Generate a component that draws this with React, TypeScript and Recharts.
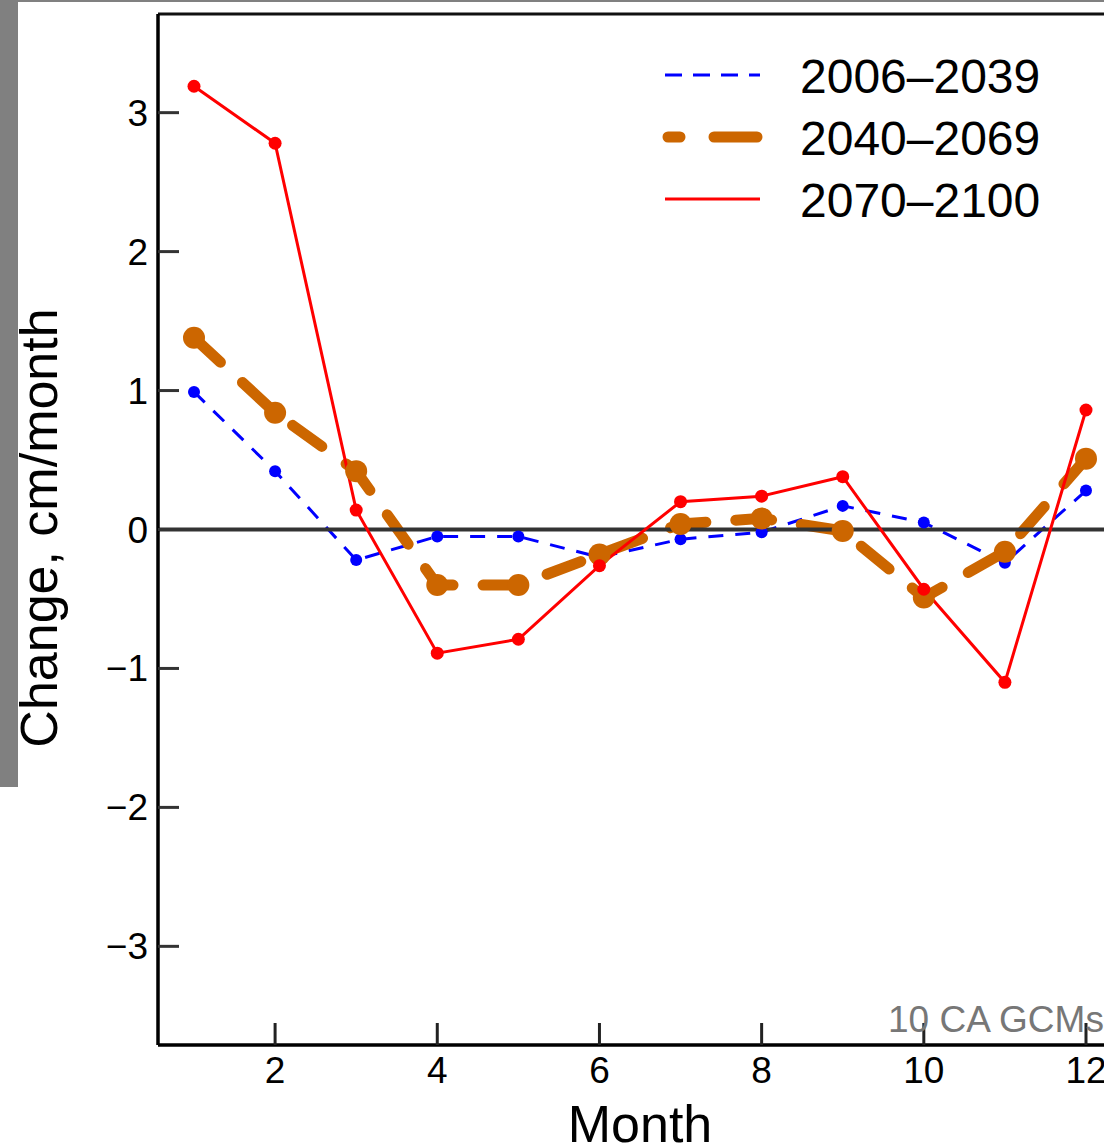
import React from "react";
import { LineChart, Line, XAxis, YAxis, ReferenceLine } from "recharts";

const months = [1, 2, 3, 4, 5, 6, 7, 8, 9, 10, 11, 12];
const s2006 = [0.99, 0.42, -0.22, -0.05, -0.05, -0.2, -0.07, -0.02, 0.17, 0.05, -0.24, 0.28];
const s2040 = [1.38, 0.84, 0.42, -0.4, -0.4, -0.18, 0.04, 0.08, -0.01, -0.49, -0.16, 0.51];
const s2070 = [3.19, 2.78, 0.14, -0.89, -0.79, -0.26, 0.2, 0.24, 0.38, -0.43, -1.1, 0.86];
const xTicks = [2, 4, 6, 8, 10, 12];
const yTicks = [-3, -2, -1, 0, 1, 2, 3];
const seriesNames = ["2006–2039", "2040–2069", "2070–2100"];
const xDomain = [0.556, 12.444];
const yDomain = [-3.71, 3.71];

const data = months.map((m, i) => ({ month: m, a: s2006[i], b: s2040[i], c: s2070[i] }));

const FONT = "'Liberation Sans', Arial, Helvetica, sans-serif";
const BLUE = "#0000ff";
const ORANGE = "#cc6600";
const RED = "#ff0000";

const fmt = (v: number) => (v < 0 ? "\u2212" + Math.abs(v) : String(v));

const XTick = (props: any) => {
  const { x, y, payload } = props;
  return (
    <g>
      <line x1={x} y1={y} x2={x} y2={y - 22} stroke="#222" strokeWidth={3} />
      <text x={x} y={y + 38} textAnchor="middle" fontSize={37} fontFamily={FONT} fill="#000">
        {fmt(payload.value)}
      </text>
    </g>
  );
};

const YTick = (props: any) => {
  const { x, y, payload } = props;
  return (
    <g>
      <line x1={x} y1={y} x2={x + 21} y2={y} stroke="#333" strokeWidth={3} />
      <text x={x - 10} y={y + 13} textAnchor="end" fontSize={37} fontFamily={FONT} fill="#000">
        {fmt(payload.value)}
      </text>
    </g>
  );
};

export default function App() {
  return (
    <div
      style={{
        position: "absolute",
        left: 0,
        top: 0,
        width: 1104,
        height: 1147,
        overflow: "hidden",
        background: "#fff",
      }}
    >
      <div style={{ position: "absolute", left: 0, top: 0, width: 1104, height: 2, background: "#808080" }} />
      <div style={{ position: "absolute", left: 0, top: 0, width: 18, height: 787, background: "#808080" }} />
      <div style={{ position: "absolute", left: 0, top: 0 }}>
        <LineChart
          width={1124}
          height={1147}
          data={data}
          margin={{ top: 14, right: 2, bottom: 0, left: 0 }}
        >
          <XAxis
            dataKey="month"
            type="number"
            domain={xDomain}
            ticks={xTicks}
            allowDataOverflow
            height={102}
            tickSize={0}
            tickMargin={0}
            tick={<XTick />}
            axisLine={{ stroke: "#000", strokeWidth: 3.5 }}
            tickLine={false}
            interval={0}
          />
          <YAxis
            type="number"
            domain={yDomain}
            ticks={yTicks}
            allowDataOverflow
            width={158}
            tickSize={0}
            tickMargin={0}
            tick={<YTick />}
            axisLine={{ stroke: "#000", strokeWidth: 3.5 }}
            tickLine={false}
            interval={0}
          />
          <ReferenceLine y={3.71} stroke="#111" strokeWidth={3} ifOverflow="extendDomain" />
          <Line
            type="linear"
            dataKey="a"
            stroke={BLUE}
            strokeWidth={3}
            strokeDasharray="15 12"
            dot={{ r: 6, fill: BLUE, stroke: "none" }}
            activeDot={false}
            isAnimationActive={false}
          />
          <Line
            type="linear"
            dataKey="b"
            stroke={ORANGE}
            strokeWidth={11}
            strokeDasharray="36 30"
            strokeLinecap="round"
            dot={{ r: 11, fill: ORANGE, stroke: "none" }}
            activeDot={false}
            isAnimationActive={false}
          />
          <ReferenceLine y={0} stroke="#333" strokeWidth={4} />
          <Line
            type="linear"
            dataKey="c"
            stroke={RED}
            strokeWidth={3}
            dot={{ r: 6.5, fill: RED, stroke: "none" }}
            activeDot={false}
            isAnimationActive={false}
          />
        </LineChart>
      </div>
      <svg
        width={1104}
        height={1147}
        style={{ position: "absolute", left: 0, top: 0, pointerEvents: "none" }}
      >
        <line x1={665} y1={75} x2={760} y2={75} stroke={BLUE} strokeWidth={3} strokeDasharray="17 11" />
        <line x1={668} y1={137} x2={757} y2={137} stroke={ORANGE} strokeWidth={11} strokeDasharray="12 34 60" strokeLinecap="round" />
        <line x1={665} y1={199} x2={760} y2={199} stroke={RED} strokeWidth={3} />
        {seriesNames.map((n, i) => (
          <text key={n} x={800} y={93 + i * 62} fontSize={48} fontFamily={FONT} fill="#000">
            {n}
          </text>
        ))}
        <text x={888} y={1032} fontSize={37} fontFamily={FONT} fill="#777">
          10 CA GCMs
        </text>
        <text
          x={39}
          y={528}
          fontSize={52}
          fontFamily={FONT}
          fill="#000"
          textAnchor="middle"
          dominantBaseline="central"
          transform="rotate(-90 39 528)"
        >
          Change, cm/month
        </text>
        <text x={640} y={1142} fontSize={52} fontFamily={FONT} fill="#000" textAnchor="middle">
          Month
        </text>
      </svg>
    </div>
  );
}
